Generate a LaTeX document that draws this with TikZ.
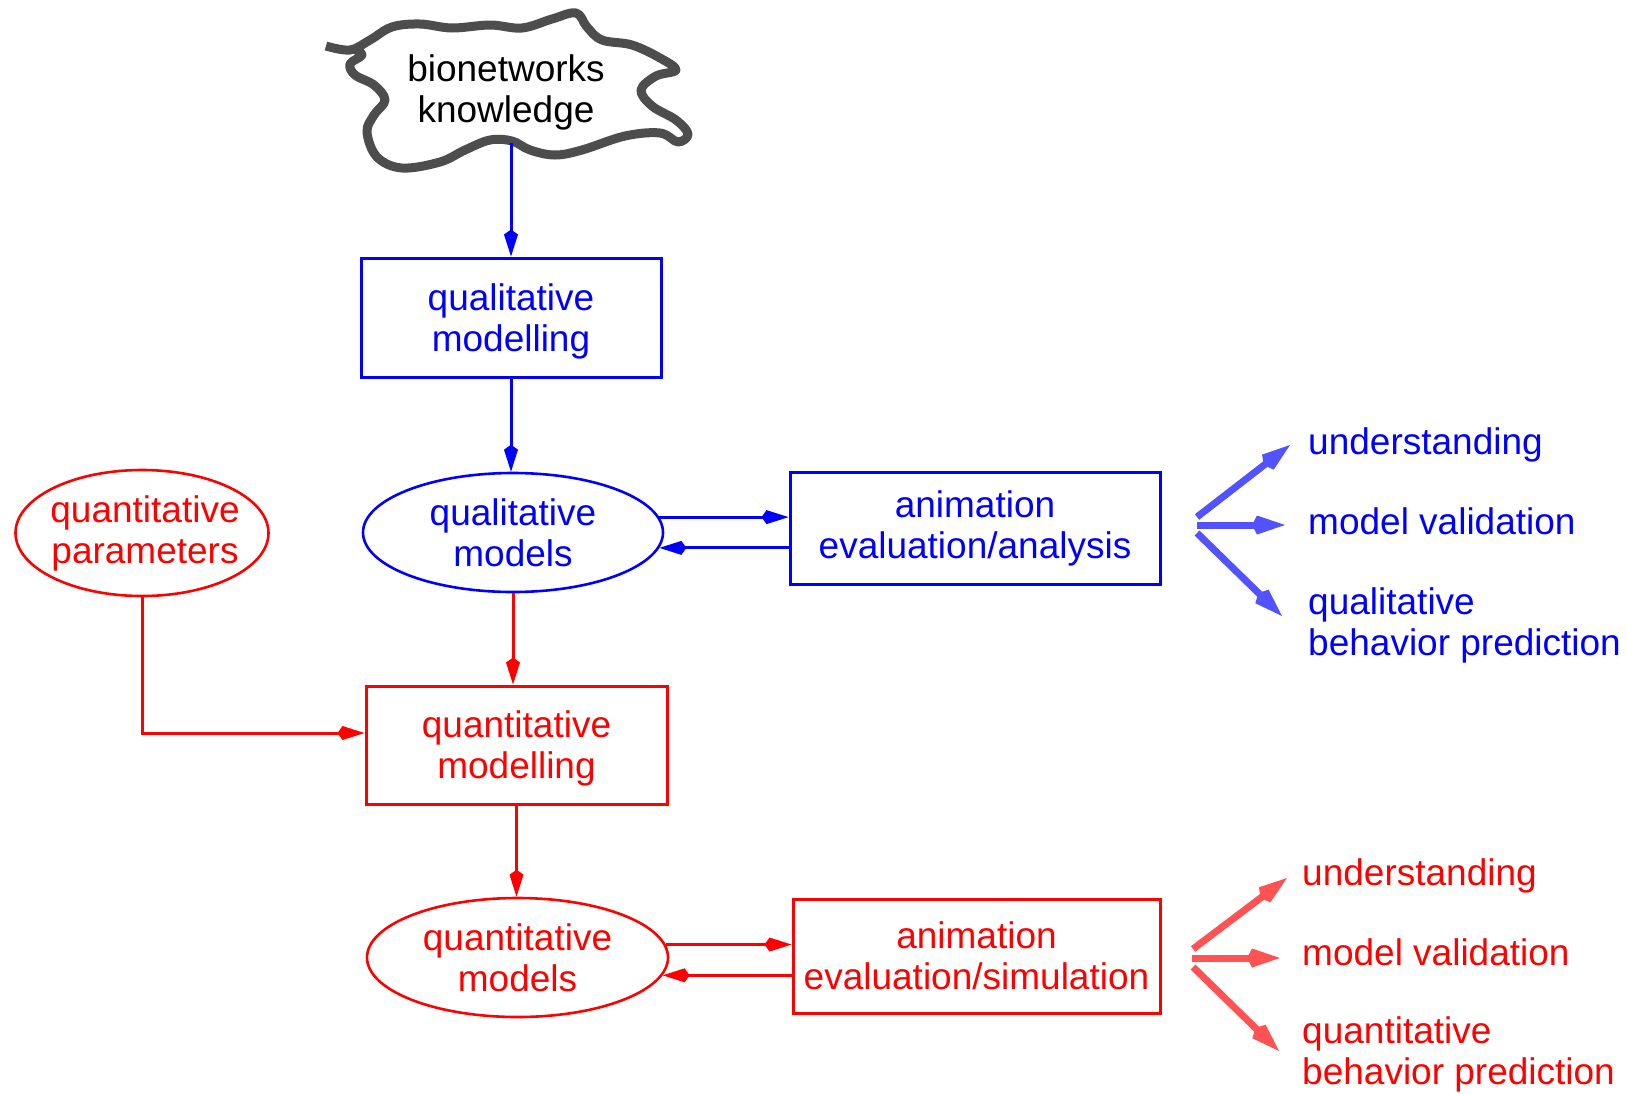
\documentclass[tikz,border=0pt]{standalone}
\usepackage{fontspec}
\setmainfont{Liberation Sans}
\usetikzlibrary{arrows.meta,shapes.geometric,calc}
\definecolor{qblue}{RGB}{0,0,255}
\definecolor{qred}{RGB}{255,0,0}
\definecolor{fanblue}{RGB}{82,82,255}
\definecolor{fanred}{RGB}{255,82,82}
\definecolor{cloudgray}{RGB}{77,77,77}
\begin{document}
\begin{tikzpicture}[x=1pt,y=-1pt,
  txt/.style={font=\fontsize{37}{41}\selectfont, align=center, inner sep=0pt},
  boxnode/.style={txt, rectangle, draw, line width=3pt},
  ovalnode/.style={txt, ellipse, draw, line width=2.6pt},
  flow/.style={line width=3pt, -{Kite[length=27pt,width=14pt,inset=5pt]}},
  fan/.style={line width=7pt, -{Kite[length=33pt,width=19pt,inset=5pt]}},
  outcome/.style={font=\fontsize{37}{41}\selectfont, align=left, anchor=west, inner sep=0pt}
]
\useasboundingbox (0,0) rectangle (1627,1093);

% knowledge cloud
\draw[cloudgray, line width=9pt, line join=round]
  plot[smooth, tension=0.6] coordinates {
  (326,46) (350,50) (370,40) (392,27) (420,24) (452,28) (490,25) (522,28)
  (552,19) (576,13) (587,27) (602,40) (632,45) (660,58) (676,70) (656,76)
  (641,90) (652,106) (676,120) (688,134) (678,142) (660,133) (625,136)
  (582,150) (555,155) (530,150) (512,141) (490,140) (465,150) (440,162)
  (402,168) (377,157) (367,132) (374,115) (385,100) (374,85) (355,75)
  (350,64) (362,55) (354,49)};
\node[txt] (know) at (506,92) {bionetworks\\knowledge};
\coordinate (knowbase) at (511,143);

% qualitative branch
\node[boxnode, qblue, text depth=0pt, minimum width=300pt, minimum height=119pt] (qlmod) at (511,317.5) {qualitative\\modelling};
\node[ovalnode, qblue, minimum width=300pt, minimum height=119pt] (qlm) at (513,532.5) {qualitative\\models};
\node[boxnode, qblue, minimum width=370pt, minimum height=112pt] (qlanim) at (975,528) {animation\\evaluation/analysis};

% quantitative branch
\node[ovalnode, qred, minimum width=253pt, minimum height=126pt] (qnpar) at (142,533)
  {\makebox[175pt][c]{\hspace*{6pt}quantitative}\\\makebox[175pt][c]{\hspace*{6pt}parameters}};
\node[boxnode, qred, text depth=0pt, minimum width=301pt, minimum height=118pt] (qnmod) at (516.5,745) {quantitative\\modelling};
\node[ovalnode, qred, minimum width=301pt, minimum height=119pt] (qnm) at (517.5,957.5) {quantitative\\models};
\node[boxnode, qred, minimum width=367pt, minimum height=114pt] (qnanim) at (976.5,956) {animation\\evaluation/simulation};

% flow connectors
\draw[flow, qblue] (knowbase) -- (knowbase |- qlmod.north);
\draw[flow, qblue] (qlmod.south) -- (qlmod.south |- qlm.north);
\draw[flow, qblue] (qlm.6) -- (qlm.6 -| qlanim.west);
\draw[flow, qblue] (qlanim.west |- qlm.-6.5) -- (qlm.-6.5);
\draw[flow, qred] (qlm.south) -- (qlm.south |- qnmod.north);
\draw[flow, qred] (qnpar.south) |- ([yshift=12pt]qnmod.west);
\draw[flow, qred] (qnmod.south) -- (qnmod.south |- qnm.north);
\draw[flow, qred] (qnm.5.2) -- (qnm.5.2 -| qnanim.west);
\draw[flow, qred] (qnanim.west |- qnm.-7.9) -- (qnm.-7.9);

% qualitative outcomes
\coordinate (bu0) at (1197,517); \coordinate (bu1) at (1290,445);
\coordinate (bm0) at (1197,525); \coordinate (bm1) at (1285,525);
\coordinate (bl0) at (1197,533); \coordinate (bl1) at (1282,616);
\draw[fan, fanblue] (bu0) -- (bu1);
\draw[fan, fanblue] (bm0) -- (bm1);
\draw[fan, fanblue] (bl0) -- (bl1);
\node[outcome, qblue] (qlo1) at (1308,445) {understanding};
\node[outcome, qblue] (qlo2) at (1308,521) {model validation};
\node[outcome, qblue] (qlo3) at (1308,625) {qualitative\\behavior prediction};

% quantitative outcomes
\coordinate (ru0) at (1193,949); \coordinate (ru1) at (1287,878);
\coordinate (rm0) at (1192,958); \coordinate (rm1) at (1280,958);
\coordinate (rl0) at (1193,967); \coordinate (rl1) at (1279,1051);
\draw[fan, fanred] (ru0) -- (ru1);
\draw[fan, fanred] (rm0) -- (rm1);
\draw[fan, fanred] (rl0) -- (rl1);
\node[outcome, qred] (qno1) at (1302,876) {understanding};
\node[outcome, qred] (qno2) at (1302,952) {model validation};
\node[outcome, qred] (qno3) at (1302,1054) {quantitative\\behavior prediction};
\end{tikzpicture}
\end{document}
